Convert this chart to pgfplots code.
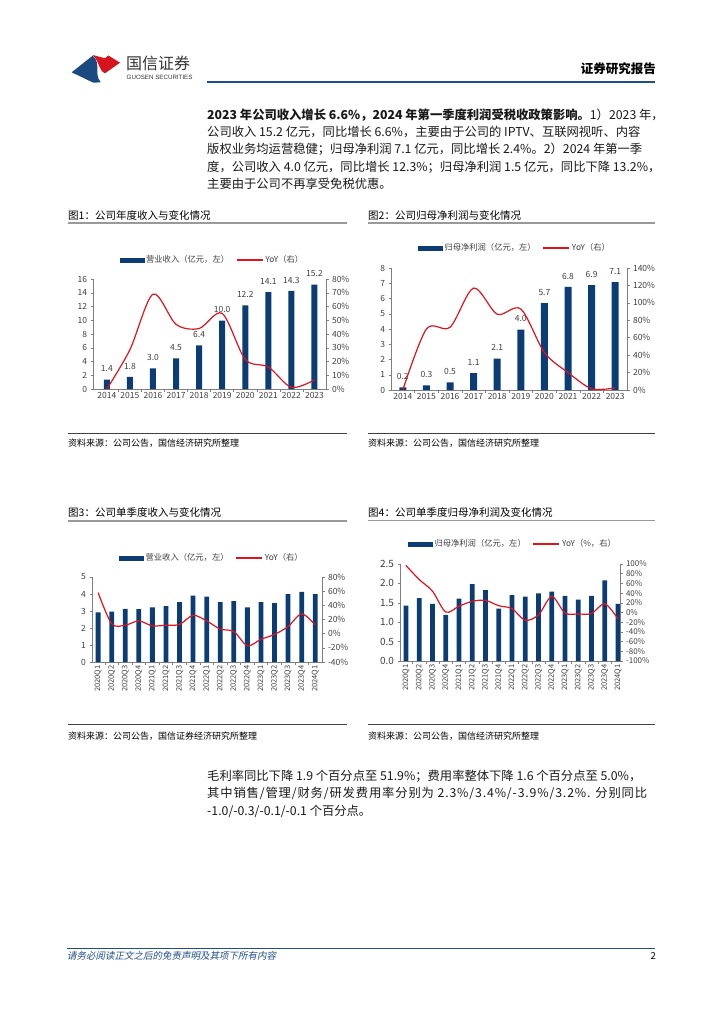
\documentclass[border=0pt]{standalone}
\usepackage{fontspec}
\setmainfont{Noto Sans CJK SC}
\newfontfamily\latinsans{Liberation Sans}
\newfontfamily\slantcjk[FakeSlant=0.2]{Noto Sans CJK SC}
\usepackage{pgfplots}
\pgfplotsset{compat=1.18}

\definecolor{navy}{HTML}{0B3D74}
\definecolor{yoyred}{HTML}{E1141E}
\definecolor{hdrblue}{HTML}{1F4E8C}
\definecolor{logoblue}{HTML}{1B4A80}
\definecolor{logored}{HTML}{D7141E}
\definecolor{tickgray}{HTML}{404040}
\definecolor{axgray}{HTML}{7F7F7F}

\newcommand{\fs}[1]{\fontsize{#1}{#1}\selectfont}

\pgfplotsset{
  gx/.style={scale only axis, anchor=south west,
    axis line style={-, draw=axgray, line width=0.6pt},
    tick style={draw=axgray, line width=0.5pt},
    tick align=outside, major tick length=2.5pt,
    /pgf/number format/assume math mode=true,
    ticklabel style={text=tickgray, font=\fs{8.5}},
  },
  barax/.style={gx, axis x line*=bottom, axis y line*=left, ymin=0, ybar,
    xticklabel={\relax}, extra x tick style={major tick length=0pt},
  },
  lineax/.style={gx, axis y line*=right, axis x line=none,
    yticklabel={\pgfmathprintnumber{\tick}\%},
    legend style={at={(0.5,1)}, anchor=center, draw=none, fill=none,
      font=\fs{8.3}, text=tickgray, legend columns=2,
      /tikz/every even column/.append style={column sep=5pt}},
  },
  barlabels/.style={nodes near coords={\pgfmathprintnumber[fixed,fixed zerofill,precision=1]{\pgfplotspointmeta}},
    every node near coord/.append style={font=\fs{8.5}, text=tickgray, yshift=4pt}},
  barleg/.style={legend image code/.code={\fill[navy] (0pt,-2pt) rectangle (24pt,2pt);}},
  yoyline/.style={yoyred, line width=1.2pt, smooth, mark=none,
    legend image code/.code={\draw[yoyred,line width=1.2pt] (0pt,0pt)--(26pt,0pt);}},
}

\begin{document}
\begin{tikzpicture}
\path[use as bounding box] (0,0) rectangle (724pt,-1024pt);
\fill[white] (0,0) rectangle (724pt,-1024pt);

% header
\fill[logoblue] (71.7pt,-72.3pt) -- (92.7pt,-55.7pt) .. controls (101.7pt,-63.3pt) and (93.3pt,-73.3pt) .. (100.7pt,-82.3pt) -- (93.3pt,-82.7pt) -- cycle;
\fill[logored] (92.7pt,-55pt) -- (105pt,-58.3pt) -- (108.3pt,-55.5pt) -- (120pt,-62.7pt) -- (105pt,-73.3pt) .. controls (98pt,-70pt) and (100pt,-62pt) .. (92.7pt,-55pt) -- cycle;
\node[anchor=west, inner sep=0, font=\fs{16}, text=black!80] at (126pt,-63.5pt) {国信证券};
\node[anchor=west, inner sep=0, font=\latinsans\fs{6.2}, text=black!80] at (126.5pt,-77.5pt) {GUOSEN SECURITIES};
\node[anchor=east, inner sep=0, font=\fs{12.5}\bfseries] at (656pt,-69pt) {证券研究报告};
\draw[hdrblue, line width=2.5pt] (207pt,-82pt) -- (655pt,-82pt);

% paragraph
\begin{scope}[every node/.style={anchor=west, inner sep=0, font=\fs{12.3}, text=black!90}]
\node at (207pt,-115pt) {\textbf{2023 年公司收入增长 6.6\%，2024 年第一季度利润受税收政策影响。}1）2023 年，};
\node at (207pt,-132.3pt) {公司收入 15.2 亿元，同比增长 6.6\%，主要由于公司的 IPTV、互联网视听、内容};
\node at (207pt,-149.6pt) {版权业务均运营稳健；归母净利润 7.1 亿元，同比增长 2.4\%。2）2024 年第一季};
\node at (207pt,-166.9pt) {度，公司收入 4.0 亿元，同比增长 12.3\%；归母净利润 1.5 亿元，同比下降 13.2\%，};
\node at (207pt,-184.2pt) {主要由于公司不再享受免税优惠。};
\node at (207pt,-776pt) {毛利率同比下降 1.9 个百分点至 51.9\%；费用率整体下降 1.6 个百分点至 5.0\%，};
\node at (207pt,-793.5pt) {\addfontfeature{LetterSpace=7}其中销售/管理/财务/研发费用率分别为 2.3\%/3.4\%/-3.9\%/3.2\%. 分别同比};
\node at (207pt,-811pt) {-1.0/-0.3/-0.1/-0.1 个百分点。};
\end{scope}

% figure frames
\begin{scope}[every node/.style={anchor=west, inner sep=0}]
\node[font=\fs{10.5}] at (68pt,-215pt) {图1：公司年度收入与变化情况};
\node[font=\fs{10.5}] at (368pt,-215pt) {图2：公司归母净利润与变化情况};
\node[font=\fs{10.5}] at (68pt,-512pt) {图3：公司单季度收入与变化情况};
\node[font=\fs{10.5}] at (368pt,-512pt) {图4：公司单季度归母净利润及变化情况};
\node[font=\fs{9}] at (68pt,-443pt) {资料来源：公司公告，国信经济研究所整理};
\node[font=\fs{9}] at (368pt,-443pt) {资料来源：公司公告，国信经济研究所整理};
\node[font=\fs{9}] at (68pt,-736pt) {资料来源：公司公告，国信证券经济研究所整理};
\node[font=\fs{9}] at (368pt,-736pt) {资料来源：公司公告，国信经济研究所整理};
\end{scope}
\draw[black!40, line width=1.5pt] (68pt,-223pt) -- (347pt,-223pt);
\draw[black!40, line width=1.5pt] (368pt,-223pt) -- (655pt,-223pt);
\draw[black!40, line width=1.5pt] (68pt,-521pt) -- (347pt,-521pt);
\draw[black!40, line width=1.5pt] (368pt,-520.5pt) -- (655pt,-520.5pt);
\draw[black!75, line width=0.7pt] (68pt,-433pt) -- (347pt,-433pt);
\draw[black!75, line width=0.7pt] (368pt,-433pt) -- (655pt,-433pt);
\draw[black!75, line width=0.7pt] (68pt,-724pt) -- (347pt,-724pt);
\draw[black!75, line width=0.7pt] (368pt,-724.5pt) -- (655pt,-724.5pt);

% ---------- chart 1 ----------
\begin{axis}[barax, at={(93pt,-389pt)}, width=233pt, height=110pt,
  xmin=-0.6, xmax=9.5, ymax=16, ytick={0,2,...,16}, bar width=6pt,
  xtick={0.5,1.5,...,8.5},
  extra x ticks={0,...,9}, extra x tick labels={2014,2015,2016,2017,2018,2019,2020,2021,2022,2023}]
\addplot[fill=navy, draw=none, barlabels] coordinates {
  (0,1.38) (1,1.78) (2,3.0) (3,4.46) (4,6.36) (5,9.96) (6,12.16) (7,14.1) (8,14.26) (9,15.2)};
\end{axis}
\begin{axis}[lineax, at={(93pt,-389pt)}, width=233pt, height=110pt,
  xmin=-0.6, xmax=9.5, ymin=0, ymax=80, ytick={0,10,...,80},
  legend style={yshift=19pt, xshift=3pt}]
\addlegendimage{barleg}
\addlegendentry{营业收入（亿元，左）}
\addplot[yoyline] coordinates {
  (0,0) (1,28.6) (2,69) (3,47) (4,44) (5,55) (6,21.5) (7,16) (8,1.2) (9,6.6)};
\addlegendentry{YoY（右）}
\end{axis}

% ---------- chart 2 ----------
\begin{axis}[barax, at={(391pt,-390pt)}, width=236pt, height=122pt,
  xmin=-0.5, xmax=9.5, ymax=8, ytick={0,1,...,8}, bar width=7pt,
  xtick={0.5,1.5,...,8.5},
  extra x ticks={0,...,9}, extra x tick labels={2014,2015,2016,2017,2018,2019,2020,2021,2022,2023}]
\addplot[fill=navy, draw=none, barlabels] coordinates {
  (0,0.17) (1,0.31) (2,0.5) (3,1.1) (4,2.06) (5,3.96) (6,5.7) (7,6.76) (8,6.88) (9,7.08)};
\end{axis}
\begin{axis}[lineax, at={(391pt,-390pt)}, width=236pt, height=122pt,
  xmin=-0.5, xmax=9.5, ymin=0, ymax=140, ytick={0,20,...,140},
  legend style={yshift=20pt, xshift=6pt}]
\addlegendimage{barleg}
\addlegendentry{归母净利润（亿元，左）}
\addplot[yoyline] coordinates {
  (0,0) (1,70) (2,72) (3,117) (4,87) (5,93) (6,43) (7,20) (8,1.5) (9,2.4)};
\addlegendentry{YoY（右）}
\end{axis}

% ---------- chart 3 ----------
\begin{axis}[barax, at={(92pt,-662pt)}, width=230pt, height=85pt,
  xmin=-0.45, xmax=16.5, ymax=5, ytick={0,1,...,5}, bar width=4.8pt,
  xtick={0.5,1.5,...,15.5},
  xticklabel style={rotate=90, anchor=east, font=\fs{7.5}},
  extra x ticks={0,...,16}, extra x tick labels={2020Q1,2020Q2,2020Q3,2020Q4,2021Q1,2021Q2,2021Q3,2021Q4,2022Q1,2022Q2,2022Q3,2022Q4,2023Q1,2023Q2,2023Q3,2023Q4,2024Q1}]
\addplot[fill=navy, draw=none] coordinates {
  (0,2.92) (1,2.96) (2,3.13) (3,3.11) (4,3.21) (5,3.29) (6,3.52) (7,3.91) (8,3.85)
  (9,3.52) (10,3.58) (11,3.21) (12,3.52) (13,3.46) (14,3.99) (15,4.12) (16,3.99)};
\end{axis}
\begin{axis}[lineax, at={(92pt,-662pt)}, width=230pt, height=85pt,
  xmin=-0.45, xmax=16.5, ymin=-40, ymax=80, ytick={-40,-20,...,80},
  legend style={yshift=19pt, xshift=5pt}]
\addlegendimage{barleg}
\addlegendentry{营业收入（亿元，左）}
\addplot[yoyline] coordinates {
  (0,58) (1,14) (2,12) (3,18) (4,11) (5,12) (6,13) (7,26) (8,18)
  (9,6.5) (10,3) (11,-17) (12,-8) (13,-1) (14,10) (15,28) (16,12.3)};
\addlegendentry{YoY（右）}
\end{axis}

% ---------- chart 4 ----------
\begin{axis}[barax, at={(400pt,-661pt)}, width=220pt, height=97pt,
  xmin=-0.45, xmax=16.15, ymax=2.5, ytick={0,0.5,...,2.5}, bar width=4.8pt,
  yticklabel style={/pgf/number format/fixed, /pgf/number format/fixed zerofill,
    /pgf/number format/precision=1, font=\fs{10}},
  xtick={0.5,1.5,...,15.5},
  xticklabel style={rotate=90, anchor=east, font=\fs{7.5}},
  extra x ticks={0,...,16}, extra x tick labels={2020Q1,2020Q2,2020Q3,2020Q4,2021Q1,2021Q2,2021Q3,2021Q4,2022Q1,2022Q2,2022Q3,2022Q4,2023Q1,2023Q2,2023Q3,2023Q4,2024Q1}]
\addplot[fill=navy, draw=none] coordinates {
  (0,1.43) (1,1.62) (2,1.47) (3,1.19) (4,1.61) (5,1.98) (6,1.83) (7,1.35) (8,1.70)
  (9,1.66) (10,1.74) (11,1.79) (12,1.68) (13,1.58) (14,1.68) (15,2.08) (16,1.47)};
\end{axis}
\begin{axis}[lineax, at={(400pt,-661pt)}, width=220pt, height=97pt,
  xmin=-0.45, xmax=16.15, ymin=-100, ymax=100, ytick={-100,-80,...,100},
  yticklabel style={font=\fs{8}},
  legend style={yshift=20pt, xshift=3pt}]
\addlegendimage{barleg}
\addlegendentry{归母净利润（亿元，左）}
\addplot[yoyline] coordinates {
  (0,97) (1,68) (2,44) (3,1) (4,13) (5,23) (6,25) (7,14) (8,8)
  (9,-16) (10,-5) (11,33) (12,-1) (13,-3) (14,-2) (15,18) (16,-13.2)};
\addlegendentry{YoY（\%，右）}
\end{axis}

% footer
\draw[hdrblue, line width=0.8pt] (67pt,-948pt) -- (655pt,-948pt);
\node[anchor=west, inner sep=0, font=\slantcjk\fs{9.5}, text=hdrblue] at (67pt,-956pt) {请务必阅读正文之后的免责声明及其项下所有内容};
\node[anchor=east, inner sep=0, font=\fs{9.5}] at (656pt,-956pt) {2};
\end{tikzpicture}
\end{document}
